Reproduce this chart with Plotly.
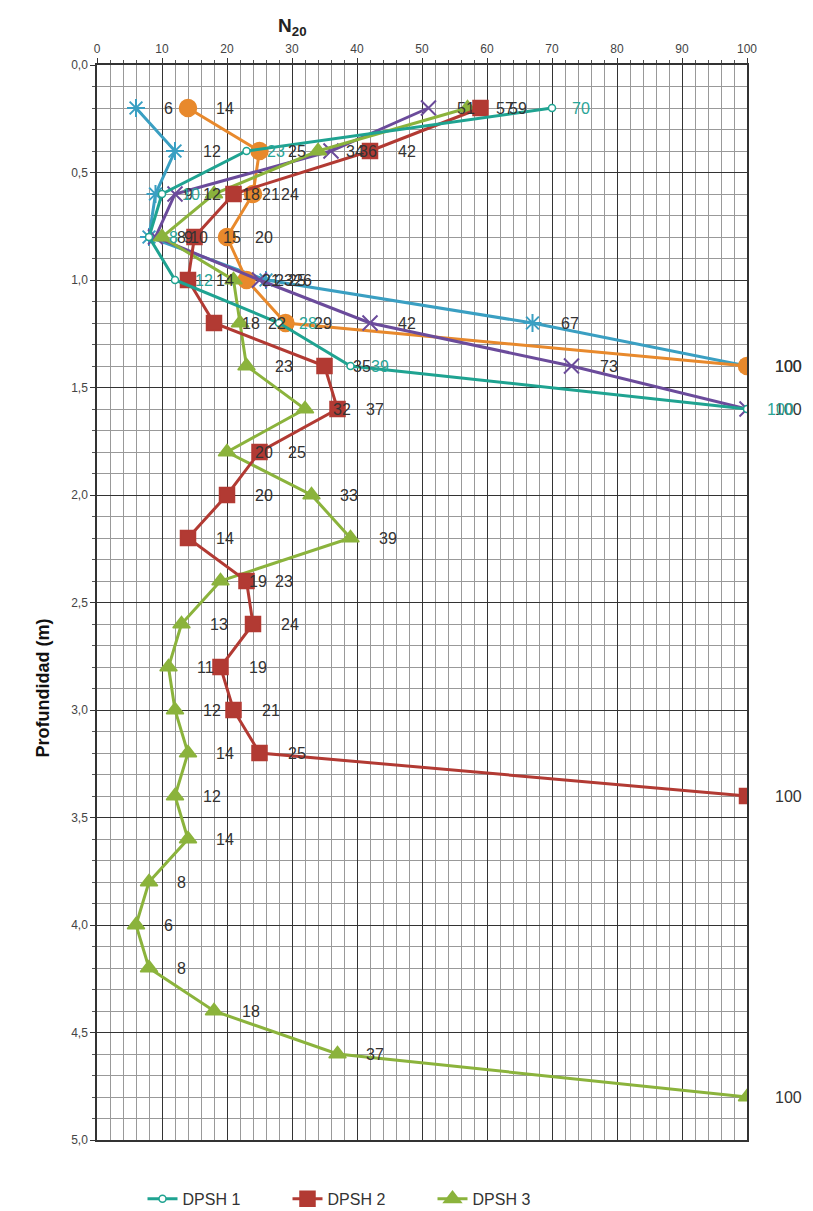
import plotly.graph_objects as go

# ---- data (N20 blow counts vs depth) ----
depth_dpsh1 = [0.2, 0.4, 0.6, 0.8, 1.0, 1.2, 1.4, 1.6]
n20_dpsh1 = [70, 23, 10, 8, 12, 28, 39, 100]

depth_dpsh2 = [0.2, 0.4, 0.6, 0.8, 1.0, 1.2, 1.4, 1.6, 1.8, 2.0, 2.2, 2.4, 2.6, 2.8, 3.0, 3.2, 3.4]
n20_dpsh2 = [59, 42, 21, 15, 14, 18, 35, 37, 25, 20, 14, 23, 24, 19, 21, 25, 100]

depth_dpsh3 = [0.2, 0.4, 0.6, 0.8, 1.0, 1.2, 1.4, 1.6, 1.8, 2.0, 2.2, 2.4, 2.6, 2.8, 3.0, 3.2,
               3.4, 3.6, 3.8, 4.0, 4.2, 4.4, 4.6, 4.8]
n20_dpsh3 = [57, 34, 18, 10, 21, 22, 23, 32, 20, 33, 39, 19, 13, 11, 12, 14,
             12, 14, 8, 6, 8, 18, 37, 100]

depth_blue = [0.2, 0.4, 0.6, 0.8, 1.0, 1.2, 1.4]
n20_blue = [6, 12, 9, 8, 26, 67, 100]

depth_orange = [0.2, 0.4, 0.6, 0.8, 1.0, 1.2, 1.4]
n20_orange = [14, 25, 24, 20, 23, 29, 100]

depth_purple = [0.2, 0.4, 0.6, 0.8, 1.0, 1.2, 1.4, 1.6]
n20_purple = [51, 36, 12, 9, 25, 42, 73, 100]

y_ticks = [0.0, 0.5, 1.0, 1.5, 2.0, 2.5, 3.0, 3.5, 4.0, 4.5, 5.0]
x_ticks = [0, 10, 20, 30, 40, 50, 60, 70, 80, 90, 100]

FONT = "Liberation Sans, Arial, sans-serif"

series = [
    # name, x, y, color, marker symbol, size, marker fill, label color, label shift, show legend
    ("DPSH 4", n20_blue, depth_blue, "#3a9fc2", "asterisk-open", 15, None, "#333333", 26, False),
    ("DPSH 5", n20_orange, depth_orange, "#e8892c", "circle", 17, "#e8892c", "#333333", 26, False),
    ("DPSH 6", n20_purple, depth_purple, "#6b4b9b", "x-thin-open", 15, None, "#333333", 26, False),
    ("DPSH 3", n20_dpsh3, depth_dpsh3, "#8bb33c", "triangle-up", 15, "#8bb33c", "#333333", 26, True),
    ("DPSH 2", n20_dpsh2, depth_dpsh2, "#b23a33", "square", 15, "#b23a33", "#333333", 26, True),
    ("DPSH 1", n20_dpsh1, depth_dpsh1, "#1fa391", "circle", 7, "white", "#2aa597", 18, True),
]

fig = go.Figure()
annotations = []
for name, xs, ys, col, sym, size, fill, lcol, shift, show in series:
    if fill is None:
        marker = dict(symbol=sym, size=size, color=col, line=dict(color=col, width=2))
    else:
        marker = dict(symbol=sym, size=size, color=fill, line=dict(color=col, width=1.5))
    fig.add_trace(go.Scatter(
        x=xs, y=ys, mode="lines+markers", name=name, showlegend=show,
        line=dict(color=col, width=3), marker=marker,
    ))
    for xv, yv in zip(xs, ys):
        annotations.append(dict(
            x=xv, y=yv, xref="x", yref="y", text=str(xv), showarrow=False,
            xanchor="left", yanchor="middle", xshift=shift,
            font=dict(family=FONT, size=16, color=lcol),
        ))

# axis titles as annotations (positioned like the reference)
annotations.append(dict(
    x=0.30, y=1.0, xref="paper", yref="paper", yshift=38, showarrow=False,
    text="<b>N<sub>20</sub></b>", xanchor="center", yanchor="middle",
    font=dict(family=FONT, size=19, color="#222222"),
))
annotations.append(dict(
    x=0.0, y=0.42, xref="paper", yref="paper", xshift=-55, showarrow=False,
    text="<b>Profundidad (m)</b>", textangle=-90, xanchor="center", yanchor="middle",
    font=dict(family=FONT, size=18, color="#111111"),
))

fig.update_layout(
    width=813, height=1211,
    margin=dict(l=97, r=66, t=65, b=71, autoexpand=False),
    paper_bgcolor="white", plot_bgcolor="white",
    separators=",.",
    font=dict(family=FONT, size=12, color="#333333"),
    annotations=annotations,
    legend=dict(
        orientation="h", x=0.07, xanchor="left", y=-0.039, yanchor="top",
        entrywidth=100, entrywidthmode="pixels", traceorder="reversed",
        font=dict(family=FONT, size=16, color="#333333"),
        bgcolor="rgba(0,0,0,0)",
    ),
)

fig.update_xaxes(
    side="top", range=[0, 100], tickvals=x_ticks, ticktext=[str(v) for v in x_ticks],
    showgrid=True, gridcolor="#333333", gridwidth=1.3,
    minor=dict(dtick=2, showgrid=True, gridcolor="#999999", gridwidth=1,
               ticks="outside", ticklen=3, tickcolor="#555555"),
    ticks="outside", ticklen=5, tickcolor="#333333",
    showline=True, linecolor="#333333", linewidth=1.5, mirror=True,
    zeroline=False, tickfont=dict(size=12, color="#444444"),
)
fig.update_yaxes(
    range=[5, 0], tickvals=y_ticks, tickformat=".1f",
    showgrid=True, gridcolor="#333333", gridwidth=1.3,
    minor=dict(dtick=0.1, showgrid=True, gridcolor="#999999", gridwidth=1,
               ticks="outside", ticklen=3, tickcolor="#555555"),
    ticks="outside", ticklen=5, tickcolor="#333333",
    showline=True, linecolor="#333333", linewidth=1.5, mirror=True,
    zeroline=False, tickfont=dict(size=12, color="#444444"),
)

fig.write_html("out.html")
